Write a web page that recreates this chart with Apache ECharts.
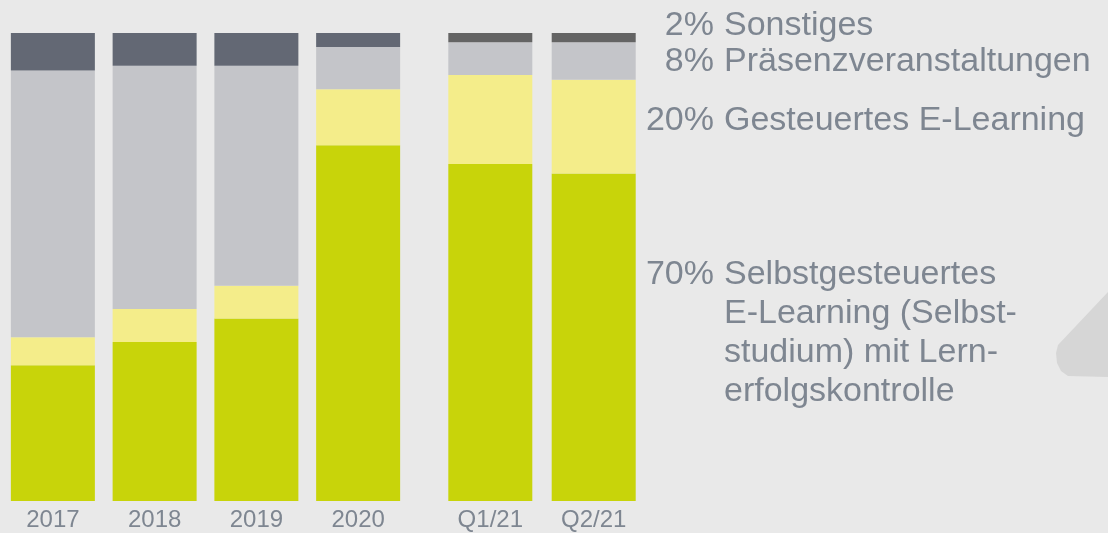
<!DOCTYPE html>
<html>
<head>
<meta charset="utf-8">
<script src="https://cdn.jsdelivr.net/npm/echarts@6/dist/echarts.min.js"></script>
<style>
  html, body { margin: 0; padding: 0; background: #e9e9e9; }
  #chart-panel { width: 1108px; height: 533px; }
</style>
</head>
<body>
<div id="chart-panel"></div>
<script>
// Werte in Prozent, von unten nach oben gestapelt
const categories = ["2017", "2018", "2019", "2020", "Q1/21", "Q2/21"]
const selbstgesteuert = [29, 34, 39, 76, 72, 70]
const gesteuert = [6, 7, 7, 12, 19, 20]
const praesenz = [57, 52, 47, 9, 7, 8]
const sonstiges = [8, 7, 7, 3, 2, 2]

// Legende rechts (Prozent der letzten Säule)
const legendPct = ["2%", "8%", "20%", "70%"]
const legendText = [
  "Sonstiges",
  "Präsenzveranstaltungen",
  "Gesteuertes E-Learning",
  "Selbstgesteuertes\nE-Learning (Selbst-\nstudium) mit Lern-\nerfolgskontrolle"
]

const textColor = "#7e8691"
const font = "'Liberation Sans', Arial, sans-serif"

const chart = echarts.init(document.getElementById("chart-panel"), null, { renderer: "canvas" })

// zwei Gruppen: Jahre und Quartale
const groups = [
  { from: 0, to: 4, dark: "#636874" },
  { from: 4, to: 6, dark: "#646464" }
]

const xAxis = groups.map((g, i) => ({
  type: "category",
  gridIndex: i,
  data: categories.slice(g.from, g.to),
  axisLine: { show: false },
  axisTick: { show: false },
  axisLabel: {
    margin: 7,
    color: textColor,
    fontSize: 24,
    fontFamily: font
  }
}))

const yAxis = groups.map((g, i) => ({
  type: "value",
  gridIndex: i,
  min: 0,
  max: 100,
  show: false
}))

const layers = [
  { name: "Selbstgesteuertes E-Learning", values: selbstgesteuert, color: "#c8d40a" },
  { name: "Gesteuertes E-Learning", values: gesteuert, color: "#f4ed8a" },
  { name: "Präsenzveranstaltungen", values: praesenz, color: "#c4c5c9" },
  { name: "Sonstiges", values: sonstiges, color: null }
]

const series = []
groups.forEach((g, i) => {
  layers.forEach((l) => {
    series.push({
      name: l.name,
      type: "bar",
      xAxisIndex: i,
      yAxisIndex: i,
      stack: "g" + i,
      barWidth: 84,
      data: l.values.slice(g.from, g.to),
      itemStyle: { color: l.color || g.dark },
      emphasis: { disabled: true }
    })
  })
})

// Grundlinien der ersten Textzeile
const legendBaseline = [37.5, 73.5, 133, 286.5]
const graphic = []
legendPct.forEach((p, i) => {
  const top = legendBaseline[i] - 32
  graphic.push({
    type: "text",
    x: 714,
    y: top,
    style: {
      text: p,
      fill: textColor,
      font: "34px " + font,
      lineHeight: 39.3,
      textAlign: "right",
      textVerticalAlign: "top"
    }
  })
  graphic.push({
    type: "text",
    x: 724,
    y: top,
    style: {
      text: legendText[i],
      fill: textColor,
      font: "34px " + font,
      lineHeight: 39.3,
      textAlign: "left",
      textVerticalAlign: "top"
    }
  })
})
// angeschnittene Form am rechten Rand
graphic.push({
  type: "polygon",
  shape: {
    points: [[1108, 292], [1058, 345], [1056, 353], [1057, 363], [1061, 371], [1068, 376], [1108, 377]]
  },
  style: { fill: "#d6d6d6" },
  silent: true
})

const options = {
  backgroundColor: "#e9e9e9",
  animation: false,
  grid: [
    { left: 2, width: 407, top: 33, bottom: 32 },
    { left: 438.6, width: 206.8, top: 33, bottom: 32 }
  ],
  xAxis: xAxis,
  yAxis: yAxis,
  series: series,
  graphic: graphic
}
chart.setOption(options)
</script>
</body>
</html>
